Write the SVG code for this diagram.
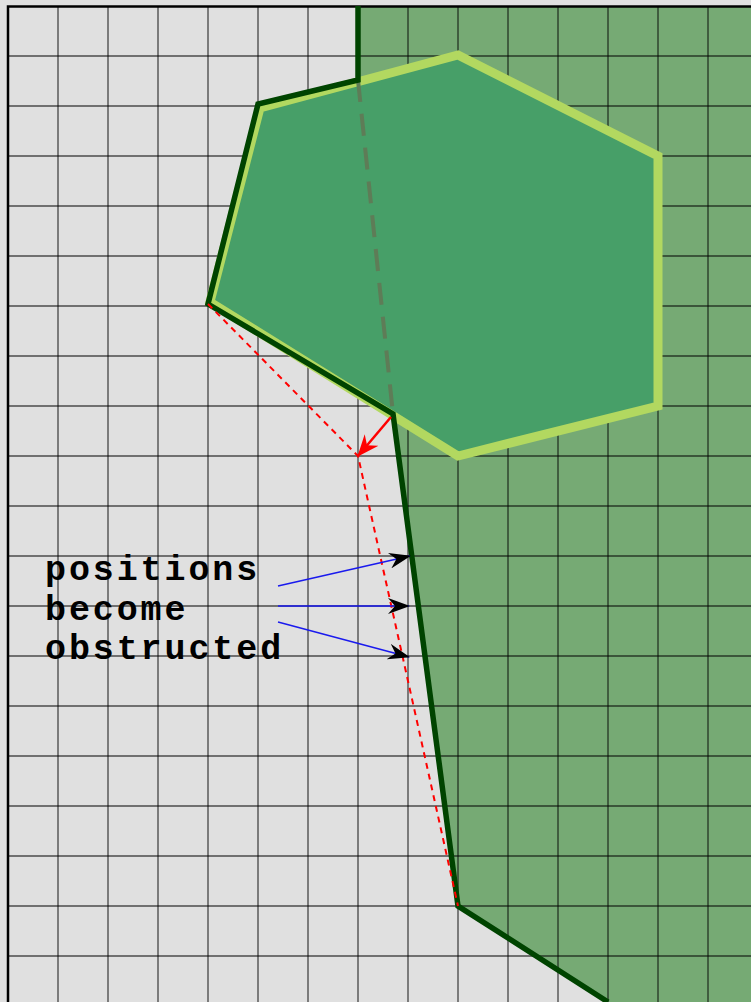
<svg xmlns="http://www.w3.org/2000/svg" width="751" height="1002" viewBox="0 0 751 1002">
<style>
.grid line{stroke:#000;stroke-opacity:0.5;stroke-width:1.8}
.lbl{font-family:"Liberation Mono","Courier New",monospace;font-weight:bold;font-size:35px;letter-spacing:2.9px;fill:#000}
.blue{stroke:#1a1aee;stroke-width:1.5;fill:none}
</style>
<defs>
<marker id="blk" viewBox="0 0 22 16" refX="21" refY="8" markerWidth="22" markerHeight="16" markerUnits="userSpaceOnUse" orient="auto">
<path d="M0,0 L22,8 L0,16 L7,8 Z" fill="#000"/>
</marker>
<marker id="red" viewBox="0 0 22 18" refX="21" refY="9" markerWidth="22" markerHeight="18" markerUnits="userSpaceOnUse" orient="auto">
<path d="M0,0 L22,9 L0,18 L7,9 Z" fill="#f00"/>
</marker>
</defs>
<rect width="751" height="1002" fill="#e0e0e0"/>
<g id="region">
<polygon points="358,6 751,6 751,1002 608,1002 458,906 393,414 358,80" fill="#76aa74"/>
</g>
<g class="grid" id="grid">
<line x1="58" y1="6" x2="58" y2="1002"/><line x1="108" y1="6" x2="108" y2="1002"/><line x1="158" y1="6" x2="158" y2="1002"/><line x1="208" y1="6" x2="208" y2="1002"/><line x1="258" y1="6" x2="258" y2="1002"/><line x1="308" y1="6" x2="308" y2="1002"/><line x1="358" y1="6" x2="358" y2="1002"/><line x1="408" y1="6" x2="408" y2="1002"/><line x1="458" y1="6" x2="458" y2="1002"/><line x1="508" y1="6" x2="508" y2="1002"/><line x1="558" y1="6" x2="558" y2="1002"/><line x1="608" y1="6" x2="608" y2="1002"/><line x1="658" y1="6" x2="658" y2="1002"/><line x1="708" y1="6" x2="708" y2="1002"/>
<line x1="8" y1="56" x2="751" y2="56"/><line x1="8" y1="106" x2="751" y2="106"/><line x1="8" y1="156" x2="751" y2="156"/><line x1="8" y1="206" x2="751" y2="206"/><line x1="8" y1="256" x2="751" y2="256"/><line x1="8" y1="306" x2="751" y2="306"/><line x1="8" y1="356" x2="751" y2="356"/><line x1="8" y1="406" x2="751" y2="406"/><line x1="8" y1="456" x2="751" y2="456"/><line x1="8" y1="506" x2="751" y2="506"/><line x1="8" y1="556" x2="751" y2="556"/><line x1="8" y1="606" x2="751" y2="606"/><line x1="8" y1="656" x2="751" y2="656"/><line x1="8" y1="706" x2="751" y2="706"/><line x1="8" y1="756" x2="751" y2="756"/><line x1="8" y1="806" x2="751" y2="806"/><line x1="8" y1="856" x2="751" y2="856"/><line x1="8" y1="906" x2="751" y2="906"/><line x1="8" y1="956" x2="751" y2="956"/>
</g>
<polyline points="8,1002 8,6.5 751,6.5" fill="none" stroke="#000" stroke-width="2.5"/>
<g id="hexagon">
<polygon points="260,108 458,55 658,156 658,406 458,456 210,302" fill="#479f68" stroke="#b2d860" stroke-width="9" stroke-linejoin="miter"/>
</g>
<g id="connectors">
<line x1="358" y1="80" x2="393" y2="414" stroke="#5e7c57" stroke-width="4" stroke-dasharray="22 12"/>
<polyline points="358,6 358,80 258,104 208,304 393,414 458,906 608,1002" fill="none" stroke="#004400" stroke-width="5.5" stroke-linejoin="miter"/>
<polyline points="208,304 358,456 458,906" fill="none" stroke="#ff0000" stroke-width="2" stroke-dasharray="6 5"/>
<line x1="391" y1="417" x2="358" y2="456" stroke="#ff0000" stroke-width="2.5" marker-end="url(#red)"/>
<line class="blue" x1="278" y1="586" x2="410" y2="556" marker-end="url(#blk)"/>
<line class="blue" x1="278" y1="606" x2="409" y2="606" marker-end="url(#blk)"/>
<line class="blue" x1="278" y1="622" x2="409" y2="657" marker-end="url(#blk)"/>
</g>
<g id="label">
<text class="lbl" x="45" y="580">positions</text>
<text class="lbl" x="45" y="620">become</text>
<text class="lbl" x="45" y="659">obstructed</text>
</g>
</svg>
